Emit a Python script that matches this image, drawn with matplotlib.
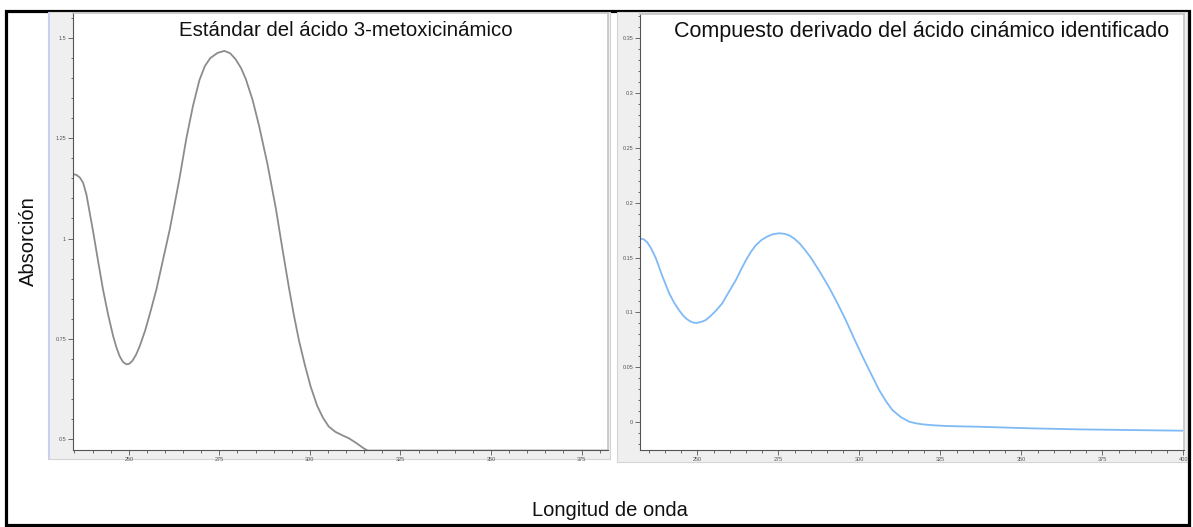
import matplotlib
matplotlib.use('Agg')
import matplotlib.pyplot as plt
from matplotlib.patches import Rectangle
from matplotlib.ticker import MultipleLocator, FuncFormatter

plt.rcParams['font.family'] = ['Liberation Sans', 'DejaVu Sans']

# espectro UV del estándar (ácido 3-metoxicinámico)
wl_std = [234.7, 235.5, 236.5, 237.4, 238.3, 239.2, 240.2, 241.5, 242.9, 244.3,
          245.7, 246.6, 247.5, 248.4, 249.4, 250.2, 251.0, 252.0, 253.0, 254.5,
          256.0, 257.6, 259.4, 261.3, 262.7, 264.0, 265.9, 267.7, 269.5, 271.0,
          272.5, 274.5, 276.4, 278.0, 279.5, 281.0, 282.3, 284.2, 286.0, 288.3,
          290.6, 292.4, 294.2, 295.6, 297.0, 298.6, 300.2, 302.0, 303.6, 305.2,
          307.0, 309.0, 310.7, 312.8, 314.8, 316.0, 382.0]
abs_std = [1.160, 1.159, 1.152, 1.139, 1.110, 1.065, 1.015, 0.945, 0.872, 0.810,
           0.756, 0.728, 0.706, 0.692, 0.686, 0.688, 0.695, 0.710, 0.731, 0.770,
           0.818, 0.872, 0.945, 1.022, 1.088, 1.150, 1.250, 1.330, 1.395, 1.430,
           1.450, 1.463, 1.468, 1.462, 1.447, 1.425, 1.398, 1.345, 1.280, 1.185,
           1.075, 0.975, 0.878, 0.808, 0.745, 0.685, 0.631, 0.583, 0.553, 0.531,
           0.518, 0.509, 0.502, 0.490, 0.477, 0.471, 0.471]

# espectro UV del compuesto identificado
wl_cmp = [232.5, 233.5, 234.5, 235.8, 237.2, 239.2, 241.3, 242.8, 244.3, 245.5,
          246.6, 247.7, 248.8, 249.8, 250.7, 251.7, 252.6, 254.2, 255.9, 257.7,
          259.8, 261.9, 263.4, 264.9, 266.5, 268.0, 269.8, 271.5, 273.3, 275.2,
          276.9, 278.5, 280.0, 281.5, 283.2, 285.0, 287.8, 290.7, 293.2, 295.8,
          298.4, 301.0, 303.6, 306.1, 308.2, 310.2, 312.8, 315.4, 317.5, 319.5,
          323.0, 326.7, 331.8, 337.0, 344.7, 352.4, 360.2, 367.9, 375.6, 383.3,
          391.5, 399.7]
abs_cmp = [0.1672, 0.1665, 0.1640, 0.1580, 0.1493, 0.1330, 0.1174, 0.1090, 0.1022, 0.0975,
           0.0942, 0.0920, 0.0906, 0.0903, 0.0910, 0.0918, 0.0930, 0.0970, 0.1020, 0.1083,
           0.1190, 0.1295, 0.1385, 0.1470, 0.1550, 0.1610, 0.1660, 0.1690, 0.1712, 0.1721,
           0.1716, 0.1700, 0.1670, 0.1630, 0.1570, 0.1500, 0.1370, 0.1225, 0.1085, 0.0930,
           0.0760, 0.0596, 0.0440, 0.0292, 0.0190, 0.0109, 0.0045, 0.0003, -0.0012, -0.0021,
           -0.0030, -0.0036, -0.0040, -0.0043, -0.0050, -0.0057, -0.0062, -0.0067, -0.0070, -0.0073,
           -0.0076, -0.0079]

titulos = ['Estándar del ácido 3-metoxicinámico',
           'Compuesto derivado del ácido cinámico identificado']

W, H = 1193, 527
fig = plt.figure(figsize=(W / 100, H / 100), dpi=100)


def px_rect(x0, y0, x1, y1):
    # convierte píxeles (origen arriba-izquierda) a fracción de figura
    return [x0 / W, 1 - y1 / H, (x1 - x0) / W, (y1 - y0) / H]


# marco negro exterior
r = px_rect(6, 11, 1189, 525)
fig.add_artist(Rectangle((r[0], r[1]), r[2], r[3], transform=fig.transFigure,
                         fill=False, edgecolor='black', linewidth=2.3, zorder=0))

# fondos grises de cada gráfico
for (x0, y0, x1, y1) in [(48, 12, 610, 459), (617, 12, 1187, 462)]:
    r = px_rect(x0, y0, x1, y1)
    fig.add_artist(Rectangle((r[0], r[1]), r[2], r[3], transform=fig.transFigure,
                             facecolor='#efefef', edgecolor='#d4d4d4', linewidth=0.8,
                             zorder=0))
r = px_rect(48, 12, 50, 459)
fig.add_artist(Rectangle((r[0], r[1]), r[2], r[3], transform=fig.transFigure,
                         facecolor='#c8cff2', edgecolor='none', zorder=0))

ax1 = fig.add_axes(px_rect(73, 13, 608, 450))
ax2 = fig.add_axes(px_rect(640, 14, 1184, 450))

fmt = FuncFormatter(lambda v, p: '{:g}'.format(round(v, 4)))

configs = [
    (ax1, wl_std, abs_std, '#8c8c8c', (234.6, 382.3), (0.4725, 1.5625), 0.25, 0.05),
    (ax2, wl_cmp, abs_cmp, '#7fbaf5', (232.3, 400.2), (-0.0255, 0.372), 0.05, 0.01),
]
for ax, x, y, color, xlim, ylim, ymaj, ymin in configs:
    ax.plot(x, y, color=color, linewidth=1.3, solid_joinstyle='round')
    ax.set_xlim(*xlim)
    ax.set_ylim(*ylim)
    ax.xaxis.set_major_locator(MultipleLocator(25))
    ax.xaxis.set_minor_locator(MultipleLocator(5))
    ax.yaxis.set_major_locator(MultipleLocator(ymaj))
    ax.yaxis.set_minor_locator(MultipleLocator(ymin))
    ax.yaxis.set_major_formatter(fmt)
    ax.tick_params(which='major', length=3.5, width=0.6, color='#555555',
                   labelsize=4, labelcolor='#555555', pad=1.5)
    ax.tick_params(which='minor', length=1.8, width=0.6, color='#555555')
    for s in ['left', 'bottom']:
        ax.spines[s].set_color('#555555')
        ax.spines[s].set_linewidth(0.8)
    for s in ['top', 'right']:
        ax.spines[s].set_color('#c4c4c4')
        ax.spines[s].set_linewidth(1.2)

# títulos y etiquetas de ejes
fig.text(346 / W, 1 - 31 / H, titulos[0], ha='center', va='center',
         fontsize=14.7, color='#111111')
fig.text(922 / W, 1 - 31 / H, titulos[1], ha='center', va='center',
         fontsize=15.5, color='#111111')
fig.text(28 / W, 1 - 241 / H, 'Absorción', rotation=90, ha='center', va='center',
         fontsize=14.5, color='#111111')
fig.text(610 / W, 1 - 510 / H, 'Longitud de onda', ha='center', va='center',
         fontsize=14.5, color='#111111')

fig.savefig('out.png', dpi=100)
